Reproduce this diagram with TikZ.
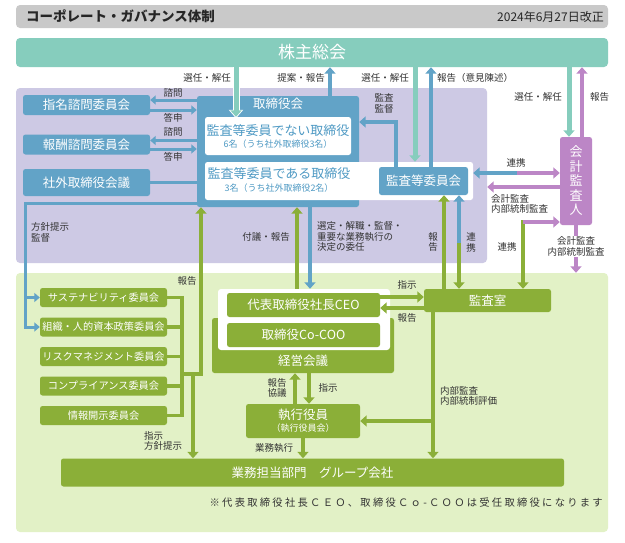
\documentclass[tikz,border=0pt]{standalone}
\usepackage{fontspec}
\setmainfont{Noto Sans CJK JP}
\newfontfamily\jpwide[LetterSpace=22]{Noto Sans CJK JP}
\usetikzlibrary{arrows.meta,calc}
\definecolor{bl}{HTML}{62A3C7}
\definecolor{tl}{HTML}{86CDBD}
\definecolor{pu}{HTML}{BC86C6}
\definecolor{gr}{HTML}{8BAF38}
\definecolor{purpbg}{HTML}{CDC9E4}
\definecolor{greenbg}{HTML}{E2F1C6}
\definecolor{hdr}{HTML}{C9C9C9}
\definecolor{txt}{HTML}{333333}
\definecolor{bltxt}{HTML}{4F9AC4}
\begin{document}
\begin{tikzpicture}[x=1pt,y=-1pt,
  >={Triangle[width=11pt,length=6.5pt]},
  region/.style={rounded corners=4pt, inner sep=0pt, draw=none},
  boxb/.style={fill=bl, rounded corners=2.5pt, text=white, inner sep=0pt, font=\fontsize{12.5}{14}\selectfont},
  boxg/.style={fill=gr, rounded corners=2.5pt, text=white, inner sep=0pt, font=\fontsize{12.5}{14}\selectfont},
  boxgs/.style={boxg, minimum width=127pt, minimum height=19pt, font=\fontsize{10.2}{12}\selectfont},
  boxw/.style={fill=white, rounded corners=2.5pt, inner sep=0pt},
  lbl/.style={text=txt, inner sep=0pt, font=\fontsize{9.5}{10.8}\selectfont, align=center},
  lbll/.style={lbl, align=left},
  ab/.style={draw=bl, line width=4pt},
  abt/.style={draw=bl, line width=3pt, >={Triangle[width=9pt,length=5.5pt]}},
  ag/.style={draw=gr, line width=4pt},
  agt/.style={draw=gr, line width=3.5pt},
  atl/.style={draw=tl, line width=5pt},
  halo/.style={draw=white, line width=7pt, -{Triangle[width=14pt,length=8.5pt]}, shorten >=-1.5pt},
  ap/.style={draw=pu, line width=4pt}]
\useasboundingbox (0,0) rectangle (625,542);
\fill[white] (0,0) rectangle (625,542);

% header
\node[region, fill=hdr, minimum width=592pt, minimum height=23pt] (hdr) at (312,16.5) {};
\node[anchor=west, inner sep=0pt, font=\fontsize{13.5}{15}\selectfont\bfseries, text=black!85] (title) at (26,16.5) {コーポレート・ガバナンス体制};
\node[anchor=east, inner sep=0pt, font=\fontsize{12}{13}\selectfont, text=black!85] (date) at (604,16.5) {2024年6月27日改正};

% shareholders
\node[region, fill=tl, minimum width=592pt, minimum height=29pt, text=white, font=\fontsize{17}{19}\selectfont] (kabu) at (312,52.5) {株主総会};

% regions
\node[region, fill=purpbg, minimum width=471pt, minimum height=175pt] (purp) at (251.5,175.5) {};
\node[region, fill=greenbg, minimum width=592pt, minimum height=259pt] (grn) at (312,402.5) {};

% blue committees
\node[boxb, minimum width=127pt, minimum height=20pt] (shimei) at (86.5,105) {指名諮問委員会};
\node[boxb, minimum width=127pt, minimum height=20pt] (hoshu) at (86.5,144.5) {報酬諮問委員会};
\node[boxb, minimum width=127pt, minimum height=27pt] (shagai) at (86.5,182.5) {社外取締役会議};

% board
\node[boxb, minimum width=162pt, minimum height=111pt] (ttb) at (278,151.5) {};
\node[text=white, inner sep=0pt, font=\fontsize{12.5}{14}\selectfont] (ttbt) at (278,104) {取締役会};
\node[boxw, minimum width=146pt, minimum height=38pt] (nai) at (278,136) {};
\node[text=bltxt, inner sep=0pt, font=\fontsize{13}{15}\selectfont] (nai1) at (278,130.5) {監査等委員でない取締役};
\node[text=bltxt, inner sep=0pt, font=\fontsize{9}{11}\selectfont] (nai2) at (278,144.5) {6名（うち社外取締役3名）};
\node[boxw, minimum width=268pt, minimum height=38pt] (aru) at (339,181) {};
\node[text=bltxt, inner sep=0pt, font=\fontsize{13}{15}\selectfont] (aru1) at (279,174) {監査等委員である取締役};
\node[text=bltxt, inner sep=0pt, font=\fontsize{9}{11}\selectfont] (aru2) at (279,188) {3名（うち社外取締役2名）};
\node[boxb, minimum width=89pt, minimum height=28pt] (kansa) at (423.5,181) {監査等委員会};

% accounting auditor
\node[fill=pu, rounded corners=2.5pt, text=white, inner sep=0pt, align=center, minimum width=32pt, minimum height=88pt, font=\fontsize{13}{14.5}\selectfont] (kaikei) at (576,181) {会\\計\\監\\査\\人};

% green committees
\node[boxgs] (sus) at (103.5,297.5) {サステナビリティ委員会};
\node[boxgs] (soshiki) at (103.5,327) {組織・人的資本政策委員会};
\node[boxgs] (risk) at (103.5,356.5) {リスクマネジメント委員会};
\node[boxgs] (comp) at (103.5,386) {コンプライアンス委員会};
\node[boxgs] (joho) at (103.5,415.5) {情報開示委員会};

% management meeting group
\node[boxg, minimum width=182pt, minimum height=55pt] (keiei) at (303,345.5) {};
\node[text=white, inner sep=0pt, font=\fontsize{12.5}{14}\selectfont] (keieit) at (303,361) {経営会議};
\node[boxw, rounded corners=3pt, minimum width=172pt, minimum height=61pt] (kwhite) at (304,319.5) {};
\node[boxg, minimum width=153pt, minimum height=24pt] (ceo) at (303.5,305) {代表取締役社長CEO};
\node[boxg, minimum width=153pt, minimum height=24pt] (coo) at (303.5,335) {取締役Co-COO};

\node[boxg, minimum width=127pt, minimum height=23pt] (kshitsu) at (487.5,300.5) {監査室};
\node[boxg, minimum width=114pt, minimum height=34pt, align=center] (shikko) at (303,421) {執行役員\\[-2pt]{\fontsize{9}{10}\selectfont（執行役員会）}};
\node[boxg, minimum width=503pt, minimum height=28pt] (gyomu) at (312.5,472.5) {業務担当部門　グループ会社};
\node[anchor=east, inner sep=0pt, text=txt, font=\jpwide\fontsize{10.3}{12}\selectfont] (note) at (603,502.5) {※代表取締役社長ＣＥＯ、取締役Ｃｏ-ＣＯＯは受任取締役になります};

% helper coordinates
\foreach \c in {25,182,193,201,236,295,297,303,309,310,330,396,415,431,433,444,569,576,582}
  {\coordinate (c\c) at (\c,0);}
\foreach \n/\r in {100/100,110/110,140/140.5,149/149,122/122,187/187,203/203,297/297,308/308,374/374}
  {\coordinate (r\n) at (0,\r);}
\coordinate (s459) at (459,243);
\coordinate (s517) at (517,173);
\coordinate (s523) at (523,222);
\coordinate (s523t) at (523,220);

% arrows top
\draw[halo] (kabu.south -| c236) -- (nai.north -| c236);
\draw[atl,->] (kabu.south -| c236) -- (nai.north -| c236);
\draw[ab,->] (ttb.north -| c330) -- (kabu.south -| c330);
\draw[atl,->] (kabu.south -| c415) -- (aru.north -| c415);
\draw[ab,->] (kansa.north -| c431) -- (kabu.south -| c431);
\draw[ab,->] (kansa.north -| c396) -- (c396 |- r122) -- (ttb.east |- r122);
\draw[atl,->] (kabu.south -| c569) -- (kaikei.north -| c569);
\draw[ap,->] (kaikei.north -| c582) -- (kabu.south -| c582);

% committees
\draw[abt,->] (ttb.west |- r100) -- (shimei.east |- r100);
\draw[abt,->] (shimei.east |- r110) -- (ttb.west |- r110);
\draw[abt,->] (ttb.west |- r140) -- (hoshu.east |- r140);
\draw[abt,->] (hoshu.east |- r149) -- (ttb.west |- r149);
\draw[abt] (shagai.east) -- (ttb.west |- shagai.east);
\draw[abt,->] (ttb.west |- r203) -- (c25 |- r203) -- (c25 |- soshiki.west) -- (soshiki.west);
\draw[abt,->] (c25 |- sus.west) -- (sus.west);

% green bus
\foreach \b in {sus,soshiki,risk,comp,joho}
  {\draw[agt] (\b.east) -- (c182 |- \b.east);}
\draw[agt] ([yshift=1.75pt]c182 |- sus.east) -- ([yshift=-1.75pt]c182 |- joho.east);
\draw[agt] (c182 |- r374) -- ([xshift=1.75pt]c201 |- r374);
\draw[agt,->] (c201 |- r374) -- (ttb.south -| c201);
\draw[agt,->] (c193 |- r374) -- (gyomu.north -| c193);

% board <-> CEO
\draw[ag,->] (kwhite.north -| c297) -- (ttb.south -| c297);
\draw[ab,->] (ttb.south -| c310) -- (kwhite.north -| c310);
\draw[ag,->] (ceo.east |- r297) -- (kshitsu.west |- r297);
\draw[ag,->] (kshitsu.west |- r308) -- (ceo.east |- r308);

% audit
\draw[ag,->] (kshitsu.north -| c444) -- (kansa.south -| c444);
\draw[ab,->] (s459) -- (kansa.south -| s459);
\draw[ag,->] (s459) -- (kshitsu.north -| s459);
\draw[ab,->] (s517) -- (aru.east |- s517);
\draw[ap,->] (s517) -- (kaikei.west |- s517);
\draw[ap,->] (kaikei.west |- r187) -- (purp.east |- r187);
\draw[ag,->] (s523t) -- (kshitsu.north -| s523);
\draw[ap,->] (s523) -- (kaikei.west |- s523);
\draw[ap,->] (kaikei.south -| c576) -- (grn.north -| c576);

% execution
\draw[ag,->] (shikko.north -| c295) -- (keiei.south -| c295);
\draw[ag,->] (keiei.south -| c309) -- (shikko.north -| c309);
\draw[ag,->] (shikko.south -| c303) -- (gyomu.north -| c303);
\draw[ag,->] (kshitsu.south -| c433) -- (gyomu.north -| c433);
\draw[ag,->] (c433 |- shikko.east) -- (shikko.east);

% labels
\node[lbl, anchor=east] (l1) at (231,78) {選任・解任};
\node[lbl, anchor=east] (l2) at (325,78) {提案・報告};
\node[lbl, anchor=east] (l3) at (409,78) {選任・解任};
\node[lbl, anchor=west] (l4) at (437,78) {報告（意見陳述）};
\node[lbl] (l5) at (384,103.5) {監査\\監督};
\node[lbl, anchor=east] (l6) at (562,97) {選任・解任};
\node[lbl, anchor=west] (l7) at (590,97) {報告};
\node[lbl] (l8) at (173,93) {諮問};
\node[lbl] (l9) at (173,117.5) {答申};
\node[lbl] (l10) at (173,132) {諮問};
\node[lbl] (l11) at (173,157) {答申};
\node[lbl] (l12) at (516,163) {連携};
\node[lbll, anchor=west] (l13) at (491,204) {会計監査\\内部統制監査};
\node[lbl] (l14) at (507,247) {連携};
\node[lbl, fill=white, inner sep=1pt] (l15) at (576,246.5) {会計監査\\内部統制監査};
\node[lbl] (l16) at (433,242) {報\\告};
\node[lbl] (l17) at (471,242) {連\\携};
\node[lbll, anchor=west] (l18) at (31,232) {方針提示\\監督};
\node[lbl, anchor=east] (l19) at (290,236.5) {付議・報告};
\node[lbll, anchor=west] (l20) at (317,236.5) {選定・解職・監督・\\重要な業務執行の\\決定の委任};
\node[lbl] (l21) at (187,281) {報告};
\node[lbl] (l22) at (407,285) {指示};
\node[lbl] (l23) at (407,318) {報告};
\node[lbl] (l24) at (277,388) {報告\\協議};
\node[lbl] (l25) at (328,388) {指示};
\node[lbl] (l26) at (274,448) {業務執行};
\node[lbll, anchor=west] (l27) at (144,441) {指示\\方針提示};
\node[lbll, anchor=west] (l28) at (440,396) {内部監査\\内部統制評価};
\end{tikzpicture}
\end{document}
